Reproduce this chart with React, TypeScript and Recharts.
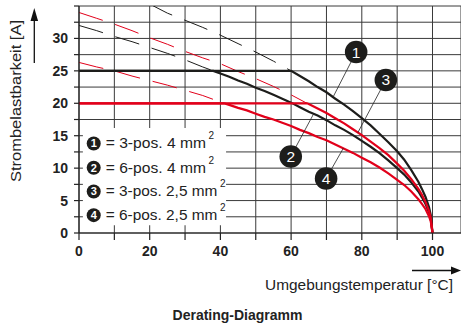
import React from 'react';
import {
  LineChart,
  Line,
  XAxis,
  YAxis,
  CartesianGrid,
  ReferenceArea,
  ReferenceLine,
  ReferenceDot,
  Label,
} from 'recharts';

// ---- data (temperature °C, current A) ----
const xTicks = [0, 10, 20, 30, 40, 50, 60, 70, 80, 90, 100];
const yTicks = [0, 2.5, 5, 7.5, 10, 12.5, 15, 17.5, 20, 22.5, 25, 27.5, 30, 32.5, 35];

// 1 = 3-pos. 4 mm²
const curve1: [number, number][] = [
  [0, 25], [60, 25], [62.5, 24.2], [65, 23.4], [67.5, 22.5], [70, 21.7], [72.5, 20.7],
  [75, 19.8], [77.5, 18.8], [80, 17.7], [82.5, 16.6], [85, 15.3], [87.5, 14.0], [90, 12.6],
  [92, 11.3], [94, 9.7], [96, 7.9], [97, 6.8], [98, 5.6], [99, 4.0], [99.5, 2.8], [100, 0],
];
const curve1Ext: [number, number][] = [
  [20, 35.3], [25, 33.9], [30, 32.8], [35, 31.7], [40, 30.5], [45, 29.2], [50, 27.9], [55, 26.5], [60, 25],
];

// 2 = 6-pos. 4 mm²
const curve2: [number, number][] = [
  [0, 25], [38, 25], [40, 24.6], [42.5, 24.1], [45, 23.5], [47.5, 23.0], [50, 22.4], [52.5, 21.9],
  [55, 21.3], [57.5, 20.7], [60, 20.1], [62.5, 19.4], [65, 18.7], [67.5, 18.1], [70, 17.4],
  [72.5, 16.6], [75, 15.9], [77.5, 15.1], [80, 14.2], [82.5, 13.3], [85, 12.3], [87.5, 11.2],
  [90, 10.0], [92, 9.0], [94, 7.8], [96, 6.4], [97, 5.5], [98, 4.5], [99, 3.2], [99.5, 2.2], [100, 0],
];
const curve2Ext: [number, number][] = [
  [0, 32.0], [5, 31.2], [10, 30.3], [15, 29.5], [20, 28.6], [25, 27.7], [30, 26.7], [35, 25.6], [38, 25],
];

// 3 = 3-pos. 2,5 mm²
const curve3: [number, number][] = [
  [0, 20], [64.5, 20], [65, 19.9], [67.5, 19.2], [70, 18.5], [72.5, 17.7], [75, 16.9], [77.5, 16.0],
  [80, 15.1], [82.5, 14.1], [85, 13.1], [87.5, 12.0], [90, 10.7], [92, 9.6], [94, 8.3], [96, 6.8],
  [97, 5.9], [98, 4.8], [99, 3.4], [99.5, 2.4], [100, 0],
];
const curve3Ext: [number, number][] = [
  [0, 34.0], [5, 33.1], [10, 32.2], [15, 31.2], [20, 30.1], [25, 29.1], [30, 28.0], [35, 27.0],
  [40, 26.1], [45, 24.9], [50, 23.8], [55, 22.6], [60, 21.3], [64.5, 20],
];

// 4 = 6-pos. 2,5 mm²
const curve4: [number, number][] = [
  [0, 20], [41, 20], [42.5, 19.75], [45, 19.3], [47.5, 18.9], [50, 18.4], [52.5, 17.9], [55, 17.5],
  [57.5, 17.0], [60, 16.5], [62.5, 15.9], [65, 15.4], [67.5, 14.8], [70, 14.3], [72.5, 13.65],
  [75, 13.0], [77.5, 12.35], [80, 11.6], [82.5, 10.9], [85, 10.1], [87.5, 9.2], [90, 8.2],
  [92, 7.4], [94, 6.4], [96, 5.2], [97, 4.5], [98, 3.7], [99, 2.6], [99.5, 1.8], [100, 0],
];
const curve4Ext: [number, number][] = [
  [0, 26.3], [5, 25.6], [10, 25.0], [15, 24.2], [20, 23.5], [25, 22.8], [30, 22.0], [35, 21.2], [41, 20],
];

const legendLabels = ['3-pos. 4 mm', '6-pos. 4 mm', '3-pos. 2,5 mm', '6-pos. 2,5 mm'];
const legendRowsY = [13.8, 10.05, 6.4, 2.75];
const legendX = 4.16;

// callouts: [number, circle x, circle y, curve x, curve y]
const callouts: [string, number, number, number, number][] = [
  ['1', 78.4, 27.9, 72.0, 21.1],
  ['3', 86.8, 23.6, 78.9, 15.5],
  ['2', 59.9, 11.8, 66.3, 18.3],
  ['4', 69.9, 8.4, 74.8, 13.1],
];

const toRows = (pts: [number, number][]) => pts.map(([t, i]) => ({ t, i }));

const FONT = '"Liberation Sans", Arial, Helvetica, sans-serif';
const RED = '#e2001a';
const BLACK = '#1d1d1b';

const YTitle = (props: any) => {
  const vb = props.viewBox || { x: 0, y: 6, width: 79, height: 227 };
  const tx = vb.x + 21;
  const ty = vb.y + 95;
  const ax = vb.x + 34.3;
  return (
    <g>
      <text
        x={tx}
        y={ty}
        transform={`rotate(-90 ${tx} ${ty})`}
        textAnchor="middle"
        fontSize={15}
        fontFamily={FONT}
        fill="#222"
        textLength={162}
        lengthAdjust="spacingAndGlyphs"
      >
        Strombelastbarkeit [A]
      </text>
      <line x1={ax} y1={vb.y + 14} x2={ax} y2={vb.y + 57} stroke="#111" strokeWidth={1.3} />
      <polygon points={`${ax},${vb.y + 2} ${ax - 3.8},${vb.y + 15} ${ax + 3.8},${vb.y + 15}`} fill="#111" />
    </g>
  );
};

const XTitle = (props: any) => {
  const vb = props.viewBox || { x: 79, y: 233, width: 382, height: 90 };
  const ay = vb.y + 37.5;
  return (
    <g>
      <line x1={vb.x + 333} y1={ay} x2={vb.x + 374} y2={ay} stroke="#111" strokeWidth={1.3} />
      <polygon points={`${vb.x + 382},${ay} ${vb.x + 372},${ay - 4} ${vb.x + 372},${ay + 4}`} fill="#111" />
      <text
        x={vb.x + 374}
        y={vb.y + 57}
        textAnchor="end"
        fontSize={15}
        fontFamily={FONT}
        fill="#222"
        textLength={188}
        lengthAdjust="spacingAndGlyphs"
      >
        Umgebungstemperatur [°C]
      </text>
      <text
        x={vb.x + 158.5}
        y={vb.y + 87}
        textAnchor="middle"
        fontSize={14}
        fontWeight="bold"
        fontFamily={FONT}
        fill="#222"
      >
        Derating-Diagramm
      </text>
    </g>
  );
};

const makeLegendShape = (idx: number) => (p: any) => {
  const { cx, cy } = p;
  const label = legendLabels[idx];
  const len = label.length > 12 ? 111.7 : 100.3;
  return (
    <g>
      <circle cx={cx} cy={cy} r={7} fill={BLACK} />
      <text
        x={cx}
        y={cy + 4}
        textAnchor="middle"
        fontSize={11}
        fontWeight="bold"
        fontFamily={FONT}
        fill="#fff"
      >
        {idx + 1}
      </text>
      <text
        x={cx + 12}
        y={cy + 5}
        fontSize={14}
        fontFamily={FONT}
        fill="#222"
        textLength={len}
        lengthAdjust="spacingAndGlyphs"
      >
        {'= ' + label}
      </text>
      <text x={cx + 12 + len + 2.5} y={cy - 4} fontSize={10} fontFamily={FONT} fill="#222">
        2
      </text>
    </g>
  );
};

const makeCalloutShape = (num: string) => (p: any) => {
  const { cx, cy } = p;
  return (
    <g>
      <circle cx={cx} cy={cy} r={11.3} fill={BLACK} />
      <text
        x={cx}
        y={cy + 5.5}
        textAnchor="middle"
        fontSize={15.5}
        fontFamily={FONT}
        fill="#fff"
      >
        {num}
      </text>
    </g>
  );
};

export default function App() {
  return (
    <div style={{ position: 'absolute', left: 0, top: 0, width: 461, height: 323, background: '#fff' }}>
      <LineChart width={461} height={323} margin={{ top: 6, right: 0, bottom: 0, left: 0 }}>
        <CartesianGrid stroke="#3a3a3a" strokeWidth={1} />
        <XAxis
          type="number"
          dataKey="t"
          domain={[0, 108.06]}
          ticks={xTicks}
          interval={0}
          allowDataOverflow
          height={90}
          tickSize={7}
          tickMargin={6}
          tickFormatter={(v: number) => (v % 20 === 0 ? String(v) : '')}
          tick={{ fontSize: 14, fontWeight: 'bold', fill: '#222', fontFamily: FONT }}
          axisLine={{ stroke: '#222', strokeWidth: 1.2 }}
          tickLine={{ stroke: '#222', strokeWidth: 1.2 }}
        >
          <Label content={XTitle} />
        </XAxis>
        <YAxis
          type="number"
          domain={[0, 35]}
          ticks={yTicks}
          interval={0}
          allowDataOverflow
          width={79}
          tickSize={5}
          tickMargin={6}
          tickFormatter={(v: number) => (v % 5 === 0 && v < 35 ? String(v) : '')}
          tick={{ fontSize: 14, fontWeight: 'bold', fill: '#222', fontFamily: FONT }}
          axisLine={{ stroke: '#222', strokeWidth: 1.2 }}
          tickLine={{ stroke: '#222', strokeWidth: 1.2 }}
        >
          <Label content={YTitle} />
        </YAxis>

        <ReferenceArea x1={1.1} x2={41.6} y1={1.2} y2={16.2} fill="#fff" fillOpacity={1} stroke="none" />

        <Line data={toRows(curve1Ext)} dataKey="i" type="linear" stroke={BLACK} strokeWidth={1} strokeDasharray="25 13" dot={false} activeDot={false} isAnimationActive={false} />
        <Line data={toRows(curve2Ext)} dataKey="i" type="linear" stroke={BLACK} strokeWidth={1} strokeDasharray="25 13" dot={false} activeDot={false} isAnimationActive={false} />
        <Line data={toRows(curve3Ext)} dataKey="i" type="linear" stroke={RED} strokeWidth={1} strokeDasharray="25 13" dot={false} activeDot={false} isAnimationActive={false} />
        <Line data={toRows(curve4Ext)} dataKey="i" type="linear" stroke={RED} strokeWidth={1} strokeDasharray="25 13" dot={false} activeDot={false} isAnimationActive={false} />

        <Line data={toRows(curve1)} dataKey="i" type="linear" stroke={BLACK} strokeWidth={2.2} dot={false} activeDot={false} isAnimationActive={false} />
        <Line data={toRows(curve2)} dataKey="i" type="linear" stroke={BLACK} strokeWidth={2.2} dot={false} activeDot={false} isAnimationActive={false} />
        <Line data={toRows(curve3)} dataKey="i" type="linear" stroke={RED} strokeWidth={2.2} dot={false} activeDot={false} isAnimationActive={false} />
        <Line data={toRows(curve4)} dataKey="i" type="linear" stroke={RED} strokeWidth={2.2} dot={false} activeDot={false} isAnimationActive={false} />

        {callouts.map(([num, cx, cy, px, py]) => (
          <ReferenceLine
            key={'l' + num}
            segment={[{ x: cx, y: cy }, { x: px, y: py }]}
            stroke="#222"
            strokeWidth={0.8}
          />
        ))}
        {callouts.map(([num, cx, cy]) => (
          <ReferenceDot key={'c' + num} x={cx} y={cy} r={11} shape={makeCalloutShape(num)} />
        ))}
        {legendRowsY.map((y, idx) => (
          <ReferenceDot key={'g' + idx} x={legendX} y={y} r={7} shape={makeLegendShape(idx)} />
        ))}
      </LineChart>
    </div>
  );
}
